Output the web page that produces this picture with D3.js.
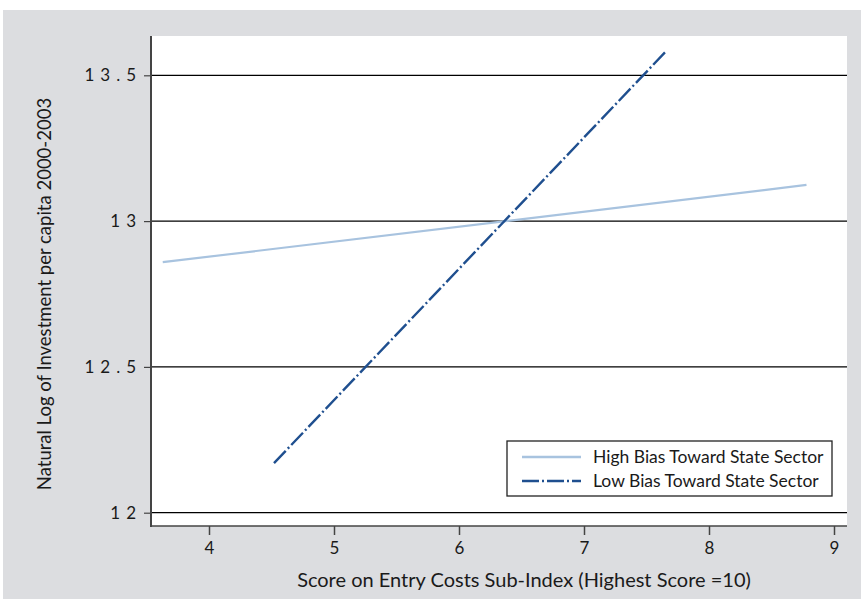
<!DOCTYPE html>
<html>
<head>
<meta charset="utf-8">
<title>Entry costs and investment</title>
<script src="https://d3js.org/d3.v7.min.js"></script>
<style>
  body { margin: 0; background: #fff; }
  text { font-family: Lato, "Open Sans", sans-serif; fill: #1a1a1a; }
</style>
</head>
<body>
<script>
// data
var seriesNames = ["High Bias Toward State Sector", "Low Bias Toward State Sector"];
var highX = [3.63, 8.78];
var highY = [12.859, 13.124];
var lowX = [4.52, 7.66];
var lowY = [12.170, 13.584];
var xTicks = [4, 5, 6, 7, 8, 9];
var yTicks = [12, 12.5, 13, 13.5];

var W = 864, H = 599;
var pLeft = 152, pRight = 847, pTop = 36, pBottom = 526;

var svg = d3.select("body").append("svg")
  .attr("width", W).attr("height", H);

// grey panel
svg.append("rect").attr("x", 3).attr("y", 10)
  .attr("width", 858).attr("height", H - 10)
  .attr("fill", "#dcdde0");

// x(4)=209, x(9)=834 ; y(12)=512.7, y(13.5)=75.3
var x = d3.scaleLinear().domain([4, 9]).range([209, 834]);
var y = d3.scaleLinear().domain([12, 13.5]).range([512.7, 75.3]);

svg.append("rect").attr("x", pLeft).attr("y", pTop)
  .attr("width", pRight - pLeft).attr("height", pBottom - pTop)
  .attr("fill", "#fff");

// grid lines
svg.selectAll(".grid").data(yTicks).enter().append("line")
  .attr("x1", pLeft).attr("x2", pRight)
  .attr("y1", function(d){ return y(d); })
  .attr("y2", function(d){ return y(d); })
  .attr("stroke", "#000").attr("stroke-width", 1.2);

// axes
var xAxis = d3.axisBottom(x).tickValues(xTicks).tickSize(9).tickPadding(7)
  .tickFormat(d3.format("d"));
var gx = svg.append("g").attr("transform", "translate(0," + pBottom + ")").call(xAxis);
gx.select(".domain").remove();
gx.selectAll("line").attr("stroke", "#444").attr("stroke-width", 1.5);
gx.selectAll("text").style("font-size", "17px").attr("fill", "#1a1a1a");

var yAxis = d3.axisLeft(y).tickValues(yTicks).tickSize(8).tickPadding(2)
  .tickFormat(function(d){ return d % 1 === 0 ? d3.format("d")(d) : d3.format(".1f")(d); });
var gy = svg.append("g").attr("transform", "translate(" + pLeft + ",0)").call(yAxis);
gy.select(".domain").remove();
gy.selectAll("line").attr("stroke", "#444").attr("stroke-width", 1.2);
gy.selectAll("text").style("font-size", "17px").style("letter-spacing", "6px").attr("fill", "#1a1a1a");

// axis lines
svg.append("line").attr("x1", pLeft - 1).attr("x2", pLeft - 1)
  .attr("y1", pTop).attr("y2", pBottom + 1)
  .attr("stroke", "#444").attr("stroke-width", 2);
svg.append("line").attr("x1", pLeft - 2).attr("x2", pRight)
  .attr("y1", pBottom).attr("y2", pBottom)
  .attr("stroke", "#444").attr("stroke-width", 1.5);

var line = d3.line().x(function(d){ return x(d[0]); }).y(function(d){ return y(d[1]); });

svg.append("path").datum(d3.zip(highX, highY))
  .attr("d", line).attr("fill", "none")
  .attr("stroke", "#a8c3df").attr("stroke-width", 2.2);

svg.append("path").datum(d3.zip(lowX, lowY))
  .attr("d", line).attr("fill", "none")
  .attr("stroke", "#1f4f8f").attr("stroke-width", 2.4)
  .attr("stroke-dasharray", "17,3,2,3");

// legend
var lg = svg.append("g");
lg.append("rect").attr("x", 507).attr("y", 441).attr("width", 325).attr("height", 55)
  .attr("fill", "#fff").attr("stroke", "#222").attr("stroke-width", 1.3);
var styles = [{c: "#a8c3df", d: null}, {c: "#1f4f8f", d: "17,3,2,3"}];
seriesNames.forEach(function(n, i) {
  var yy = 457 + i * 24;
  lg.append("line").attr("x1", 522).attr("x2", 581).attr("y1", yy).attr("y2", yy)
    .attr("stroke", styles[i].c).attr("stroke-width", 2.4)
    .attr("stroke-dasharray", styles[i].d);
  lg.append("text").attr("x", 593).attr("y", yy + 6)
    .style("font-size", "17.5px").text(n);
});

// axis titles
svg.append("text").attr("x", 524).attr("y", 587).attr("text-anchor", "middle")
  .style("font-size", "20px").text("Score on Entry Costs Sub-Index (Highest Score =10)");
svg.append("text").attr("transform", "translate(51,294) rotate(-90)")
  .attr("text-anchor", "middle").style("font-size", "18.5px")
  .text("Natural Log of Investment per capita 2000-2003");
</script>
</body>
</html>
